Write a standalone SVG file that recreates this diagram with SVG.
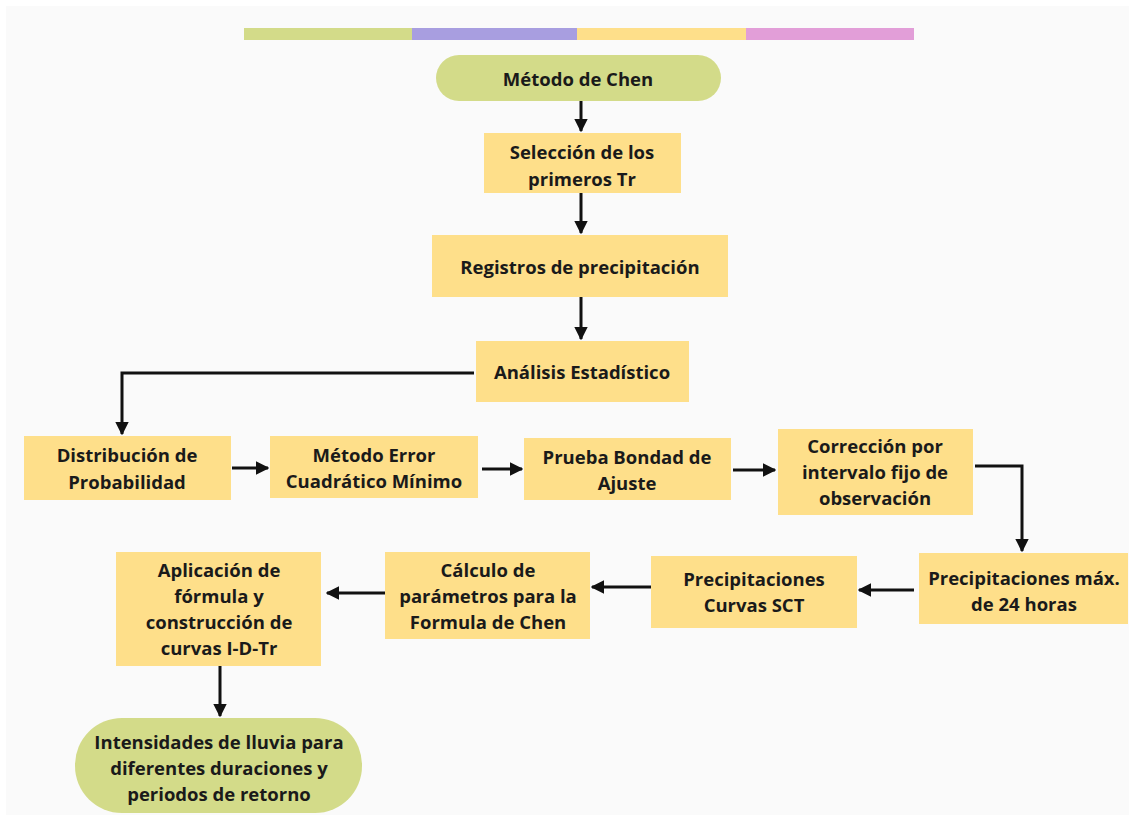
<svg xmlns="http://www.w3.org/2000/svg" width="1135" height="821" viewBox="0 0 1135 821">
<style>
.box{fill:#fedf8a;}
.pill{fill:#d3db89;}
.t{font-family:"Open Sans",Lato,"Liberation Sans",sans-serif;font-weight:700;font-size:18.5px;fill:#1a1a1a;text-anchor:middle;dominant-baseline:central;}
.c{fill:none;stroke:#111;stroke-width:3;}
</style>
<defs>
<marker id="ah" viewBox="0 0 10 10" refX="9" refY="5" markerWidth="4.5" markerHeight="4.5" markerUnits="strokeWidth" orient="auto">
<path d="M0,0 L10,5 L0,10 z" fill="#111"/>
</marker>
</defs>
<rect x="0" y="0" width="1135" height="821" fill="#ffffff"/>
<rect x="6" y="6" width="1123" height="809" fill="#fafafa"/>
<g id="topbar">
<rect x="244" y="28" width="168" height="12" fill="#d3db89"/>
<rect x="412" y="28" width="165" height="12" fill="#a89ee0"/>
<rect x="577" y="28" width="169" height="12" fill="#fedf8a"/>
<rect x="746" y="28" width="168" height="12" fill="#e29ed8"/>
</g>
<g id="connectors">
<path class="c" d="M581,101 V131" marker-end="url(#ah)"/>
<path class="c" d="M581,193 V233" marker-end="url(#ah)"/>
<path class="c" d="M581,297 V339" marker-end="url(#ah)"/>
<path class="c" d="M474,373 H122 V434" marker-end="url(#ah)"/>
<path class="c" d="M232,468 H268" marker-end="url(#ah)"/>
<path class="c" d="M482,469 H522" marker-end="url(#ah)"/>
<path class="c" d="M733,470 H775" marker-end="url(#ah)"/>
<path class="c" d="M975,466 H1022 V551" marker-end="url(#ah)"/>
<path class="c" d="M914,590 H859" marker-end="url(#ah)"/>
<path class="c" d="M651,587 H592" marker-end="url(#ah)"/>
<path class="c" d="M385,593 H327" marker-end="url(#ah)"/>
<path class="c" d="M220,666 V716" marker-end="url(#ah)"/>
</g>
<g id="n1">
<rect class="pill" x="436" y="55" width="285" height="46" rx="23"/>
<text class="t" x="578" y="78">Método de Chen</text>
</g>
<g id="n2">
<rect class="box" x="484" y="133" width="197" height="60"/>
<text class="t" x="582" y="151">Selección de los</text>
<text class="t" x="582" y="178">primeros Tr</text>
</g>
<g id="n3">
<rect class="box" x="432" y="235" width="296" height="62"/>
<text class="t" x="580" y="266">Registros de precipitación</text>
</g>
<g id="n4">
<rect class="box" x="476" y="341" width="213" height="61"/>
<text class="t" x="582" y="371">Análisis Estadístico</text>
</g>
<g id="n5">
<rect class="box" x="24" y="436" width="207" height="64"/>
<text class="t" x="127" y="454">Distribución de</text>
<text class="t" x="127" y="481">Probabilidad</text>
</g>
<g id="n6">
<rect class="box" x="270" y="436" width="208" height="62"/>
<text class="t" x="374" y="454">Método Error</text>
<text class="t" x="374" y="480">Cuadrático Mínimo</text>
</g>
<g id="n7">
<rect class="box" x="524" y="438" width="207" height="62"/>
<text class="t" x="627" y="456">Prueba Bondad de</text>
<text class="t" x="627" y="482">Ajuste</text>
</g>
<g id="n8">
<rect class="box" x="778" y="429" width="195" height="86"/>
<text class="t" x="875" y="445">Corrección por</text>
<text class="t" x="875" y="471">intervalo fijo de</text>
<text class="t" x="875" y="497">observación</text>
</g>
<g id="n9">
<rect class="box" x="919" y="553" width="209" height="71"/>
<text class="t" x="1024" y="577">Precipitaciones máx.</text>
<text class="t" x="1024" y="603">de 24 horas</text>
</g>
<g id="n10">
<rect class="box" x="651" y="556" width="206" height="72"/>
<text class="t" x="754" y="578">Precipitaciones</text>
<text class="t" x="754" y="604">Curvas SCT</text>
</g>
<g id="n11">
<rect class="box" x="385" y="552" width="205" height="87"/>
<text class="t" x="488" y="569">Cálculo de</text>
<text class="t" x="488" y="595">parámetros para la</text>
<text class="t" x="488" y="621">Formula de Chen</text>
</g>
<g id="n12">
<rect class="box" x="116" y="552" width="205" height="114"/>
<text class="t" x="219" y="569">Aplicación de</text>
<text class="t" x="219" y="595">fórmula y</text>
<text class="t" x="219" y="621">construcción de</text>
<text class="t" x="219" y="647">curvas I-D-Tr</text>
</g>
<g id="n13">
<rect class="pill" x="75" y="718" width="287" height="95" rx="47"/>
<text class="t" x="219" y="741">Intensidades de lluvia para</text>
<text class="t" x="219" y="767">diferentes duraciones y</text>
<text class="t" x="219" y="793">periodos de retorno</text>
</g>
</svg>
